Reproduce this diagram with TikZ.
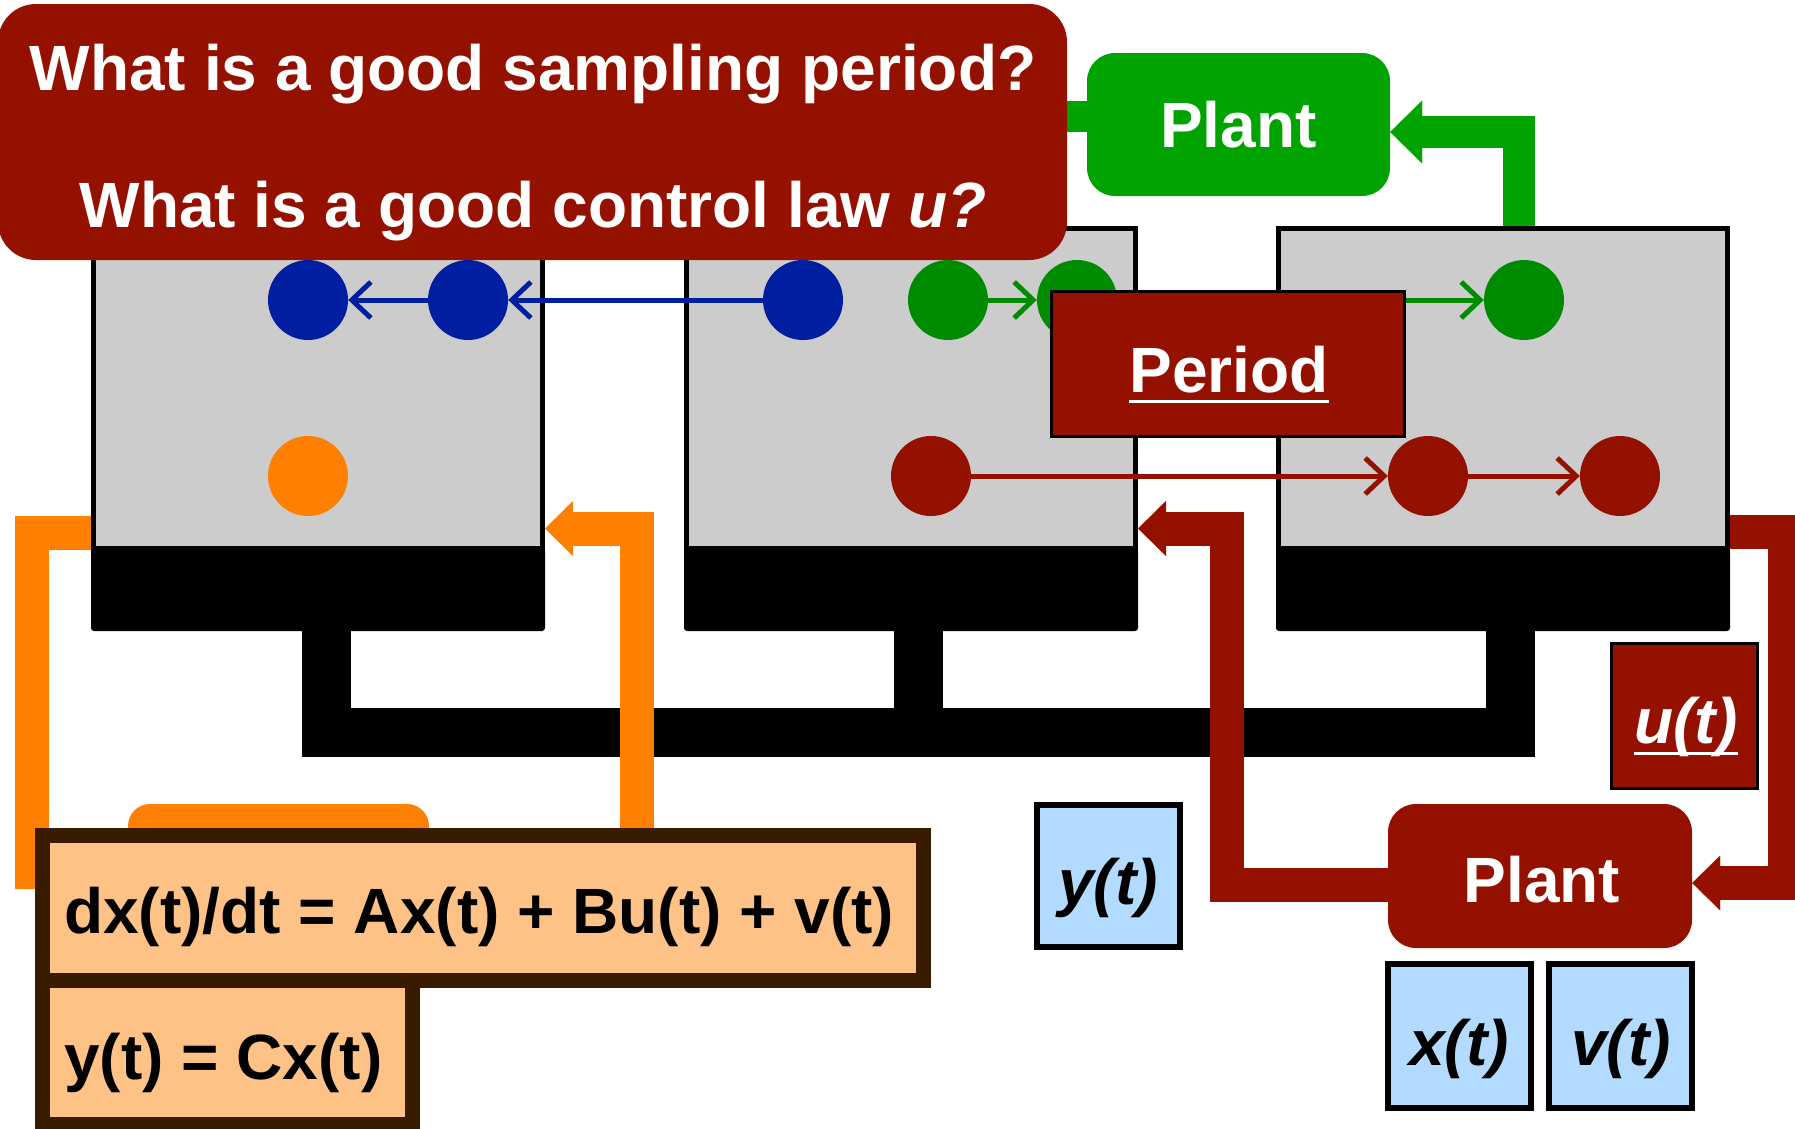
\documentclass[tikz,border=0pt]{standalone}
\usepackage{fontspec}
\setmainfont{Liberation Sans}
\usetikzlibrary{arrows.meta,calc}
\definecolor{dred}{RGB}{148,17,0}
\definecolor{pgreen}{RGB}{0,163,0}
\definecolor{cgreen}{RGB}{0,140,0}
\definecolor{cblue}{RGB}{0,30,160}
\definecolor{corange}{RGB}{255,128,0}
\definecolor{scrgray}{RGB}{204,204,204}
\definecolor{eqfill}{RGB}{254,194,134}
\definecolor{eqborder}{RGB}{57,27,0}
\definecolor{lblue}{RGB}{179,219,255}
\tikzset{
  bigfont/.style={font=\fontsize{64}{77}\selectfont\bfseries},
  scr/.style={rectangle,inner sep=0pt,draw=black,line width=5pt,fill=scrgray},
  scrbase/.style={rectangle,inner sep=0pt,fill=black,rounded corners=3pt},
  dot/.style={circle,inner sep=0pt,minimum size=80pt},
  thinarrow/.style={line width=5pt,line cap=round,-{Straight Barb[length=19pt,width=36pt]}},
  flow/.style={line width=#1,line join=miter},
  tipA/.style={-{Triangle[length=28pt,width=55pt,line width=0.1pt]}},
  tipB/.style={-{Triangle[length=32pt,width=63pt,line width=0.1pt]}},
  plantbox/.style={rectangle,inner sep=0pt,rounded corners=28pt,text=white,bigfont},
  redbox/.style={rectangle,inner sep=0pt,fill=dred,draw=black,line width=3pt},
  varbox/.style={rectangle,inner sep=0pt,fill=lblue,draw=black,line width=6pt},
  eqbox/.style={rectangle,inner sep=0pt,fill=eqfill,draw=eqborder,line width=15pt},
  txt/.style={inner sep=0pt,bigfont},
}
\begin{document}
\begin{tikzpicture}[x=1pt,y=-1pt]
\useasboundingbox (0,0) rectangle (1795,1128);

% ---- monitors ----
\node[scr,minimum width=449,minimum height=319.5] (s1g) at (318,388.25) {};
\node[scr,minimum width=449,minimum height=319.5] (s2g) at (911,388.25) {};
\node[scr,minimum width=449,minimum height=319.5] (s3g) at (1503,388.25) {};
\node[scrbase,minimum width=454,minimum height=83] (s1b) at (318,589.5) {};
\node[scrbase,minimum width=454,minimum height=83] (s2b) at (911,589.5) {};
\node[scrbase,minimum width=454,minimum height=83] (s3b) at (1503,589.5) {};
\fill[black] (302,625) rectangle (351,757);
\fill[black] (894,625) rectangle (943,757);
\fill[black] (1486,625) rectangle (1535,757);
\fill[black] (302,708) rectangle (1535,757);

% ---- green plant (top) ----
\node[plantbox,fill=pgreen,minimum width=303,minimum height=143] (plant1) at (1238.5,124.5) {Plant};
\draw[flow=31pt,pgreen] (plant1.west |- 0,116.5) -- ++(-60,0);
\draw[flow=32pt,pgreen,tipB] (s3g.north -| 1518.5,0) |- (plant1.east |- 0,132);

% ---- question box ----
\node[rectangle,inner sep=0pt,fill=dred,rounded corners=38pt,minimum width=1069,minimum height=256] (qbox) at (532.5,132) {};
\node[txt,text=white,anchor=base] (q1) at (533,90) {What is a good sampling period?};
\node[txt,text=white,anchor=base] (q2) at (533,227) {What is a good control law \textit{u?}};

% ---- circles ----
\node[dot,fill=cblue] (b1) at (308,300) {};
\node[dot,fill=cblue] (b2) at (468,300) {};
\node[dot,fill=cblue] (b3) at (803,300) {};
\node[dot,fill=cgreen] (g1) at (948,300) {};
\node[dot,fill=cgreen] (g2) at (1077,300) {};
\node[dot,fill=cgreen] (g3) at (1524,300) {};
\node[dot,fill=corange] (o1) at (308,476) {};
\node[dot,fill=dred] (r1) at (931,476) {};
\node[dot,fill=dred] (r2) at (1428,476) {};
\node[dot,fill=dred] (r3) at (1620,476) {};

\draw[thinarrow,cblue] (b3.west) -- (b2.east);
\draw[thinarrow,cblue] (b2.west) -- (b1.east);
\draw[thinarrow,cgreen] (g1.east) -- (g2.west);
\draw[thinarrow,cgreen] (g2.east) -- (g3.west);
\draw[thinarrow,dred] (r1.east) -- (r2.west);
\draw[thinarrow,dred] (r2.east) -- (r3.west);

% ---- period box ----
\node[redbox,minimum width=353,minimum height=145] (period) at (1228,364) {};
\node[txt,text=white,anchor=base] (periodtxt) at (1229,392) {Period};
\draw[white,line width=3pt] ([yshift=-9pt]periodtxt.base west) -- ([yshift=-9pt]periodtxt.base east);

% ---- orange controller tab ----
\node[rectangle,inner sep=0pt,fill=corange,rounded corners=22pt,minimum width=301,minimum height=80] (ctrl) at (278.5,844) {};

% ---- orange connectors ----
\draw[flow=34pt,corange] (s1g.west |- 0,532.5) -| (31.5,889);
\draw[flow=34pt,corange,tipA] (637,840) |- (s1g.east |- 0,528.5);

% ---- red connectors ----
\node[plantbox,fill=dred,minimum width=304,minimum height=144] (plant2) at (1540,876) {};
\node[txt,text=white,anchor=base] (plant2txt) at (1542,902) {Plant};
\draw[flow=34pt,dred,tipA] (plant2.west |- 0,884.5) -| (1226.5,528.5) -- (s2g.east |- 0,528.5);
\draw[flow=34pt,dred,tipA] (s3g.east |- 0,532) -| (1784.5,883) -- (plant2.east |- 0,883);

% ---- equation boxes ----
\node[eqbox,minimum width=370,minimum height=144] (eq2) at (227.5,1052.5) {};
\node[eqbox,minimum width=881,minimum height=145] (eq1) at (483,908) {};
\node[txt,anchor=base west] (eq1txt) at (64,933) {dx(t)/dt = Ax(t) + Bu(t) + v(t)};
\node[txt,anchor=base west] (eq2txt) at (64,1079) {y(t) = Cx(t)};

% ---- u(t) box ----
\node[redbox,minimum width=146,minimum height=145] (ubox) at (1684.5,716) {};
\node[txt,text=white,anchor=base] (utxt) at (1686,743) {\itshape u(t)};
\draw[white,line width=3pt] ([yshift=-10pt]utxt.base west) -- ([yshift=-10pt]utxt.base east);

% ---- variable boxes ----
\node[varbox,minimum width=143,minimum height=142] (ybox) at (1108.5,876) {};
\node[txt,anchor=base] (ytxt) at (1108,904) {\itshape y(t)};
\node[varbox,minimum width=143,minimum height=144] (xbox) at (1459.5,1036) {};
\node[txt,anchor=base] (xtxt) at (1459,1065) {\itshape x(t)};
\node[varbox,minimum width=143,minimum height=144] (vbox) at (1620.5,1036) {};
\node[txt,anchor=base] (vtxt) at (1621,1065) {\itshape v(t)};
\end{tikzpicture}
\end{document}
